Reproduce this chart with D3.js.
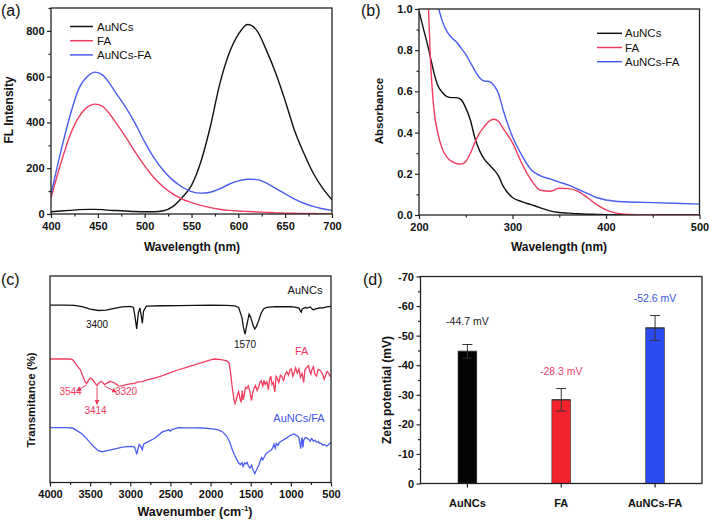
<!DOCTYPE html>
<html><head><meta charset="utf-8">
<script src="https://cdn.jsdelivr.net/npm/d3@7"></script>
<style>
body{margin:0;background:#fff;}
svg{display:block;font-family:"Liberation Sans",Arial,Helvetica,sans-serif;}
</style></head><body>
<svg id="c" width="709" height="525"></svg>
<script>
// ---------- DATA ----------
// (a) fluorescence
const flWave = [400,410,420,430,440,447,455,460,470,480,490,500,510,520,530,540,550,560,570,580,590,600,610,620,630,640,650,660,670,680,690,700];
const flAuNCs = [10,13,16,19,20,20,19,17,15,13,11,10,10,14,32,72,125,228,380,565,700,785,828,800,715,615,495,365,265,178,113,62];
const flFA = [70,215,340,425,470,480,470,450,395,335,270,210,158,118,88,65,50,38,28,21,16,13,11,9,7,5,4,3,2,2,1,1];
const flAuNCsFA = [85,265,425,550,605,620,608,585,525,465,395,315,245,190,148,118,98,91,95,110,130,145,152,150,135,112,88,65,47,33,23,16];
const flXTicks = [400,450,500,550,600,650,700];
const flYTicks = [0,200,400,600,800];

// (b) absorbance
const uvWave = [200,205,210,212,214,216,220,225,230,235,240,245,250,255,260,265,270,275,280,285,290,300,310,320,330,340,350,360,370,380,390,400,410,420,450,500];
const uvAuNCs = [0.99,0.90,0.81,0.77,0.73,0.69,0.63,0.595,0.575,0.57,0.57,0.56,0.52,0.46,0.37,0.31,0.27,0.245,0.22,0.19,0.14,0.085,0.065,0.05,0.035,0.02,0.012,0.009,0.006,0.004,0.003,0.002,0.001,0.001,0,0];
const uvFA = [null,null,1.02,0.78,0.62,0.51,0.40,0.32,0.28,0.26,0.25,0.247,0.26,0.30,0.355,0.40,0.43,0.455,0.465,0.455,0.42,0.35,0.25,0.17,0.12,0.115,0.13,0.128,0.115,0.085,0.05,0.025,0.01,0.004,0.001,0];
const uvAuNCsFA = [null,null,null,null,null,null,1.02,0.94,0.89,0.86,0.84,0.81,0.78,0.74,0.70,0.665,0.65,0.648,0.63,0.59,0.51,0.38,0.29,0.22,0.19,0.175,0.16,0.145,0.125,0.105,0.085,0.073,0.067,0.064,0.06,0.053];
const uvXTicks = [200,300,400,500];
const uvYTicks = [0,0.2,0.4,0.6,0.8,1.0];

// (c) FTIR (wavenumber, transmittance in offset units)
const irAuNCs = [[4000,85.9],[3800,85.9],[3700,85.8],[3600,85.2],[3500,84.0],[3400,83.3],[3300,83.5],[3200,84.3],[3100,85.0],[3000,85.3],[2960,84.8],[2940,80],[2920,74.4],[2900,82],[2880,84.5],[2860,80],[2850,77.1],[2835,83],[2800,85.4],[2600,85.6],[2400,85.7],[2200,85.8],[2000,85.9],[1800,85.8],[1700,85.5],[1650,84.8],[1610,80],[1590,75],[1570,71.9],[1550,76],[1520,81.5],[1500,80],[1470,76],[1450,74.4],[1430,75.5],[1400,78.5],[1370,82],[1340,84],[1300,84.8],[1200,85.2],[1100,85.1],[1000,85.2],[950,84.9],[900,84.5],[880,83.0],[870,82.5],[860,84.0],[820,84.8],[800,84.5],[760,85],[740,84.2],[720,83.6],[700,84.0],[650,84.5],[600,84.6],[550,85],[500,85.3]];
const irFA = [[4000,59.8],[3750,59.8],[3720,59.5],[3700,58.5],[3660,56.5],[3620,54.5],[3590,51.5],[3560,48.6],[3544,48.0],[3520,49.5],[3500,50.6],[3480,50.2],[3450,48.8],[3414,46.8],[3390,48.3],[3360,48.9],[3340,48.3],[3320,47.4],[3290,48.1],[3250,49.0],[3200,48.3],[3150,46.9],[3100,46.8],[3050,47.4],[3000,47.8],[2950,48.0],[2900,48.7],[2850,48.9],[2800,49.6],[2700,50.5],[2600,51.8],[2500,53.2],[2400,54.6],[2300,55.8],[2200,57.0],[2100,58.2],[2000,59.4],[1950,59.8],[1900,59.6],[1850,59.4],[1800,58.9],[1770,58.0],[1750,53.0],[1730,46],[1710,40.5],[1695,38.3],[1680,40.0],[1665,42.5],[1650,44],[1635,40.8],[1620,38.8],[1605,44.5],[1595,40],[1580,42.5],[1565,46],[1550,45.5],[1530,46.8],[1510,44.0],[1490,39.7],[1475,43.5],[1460,45.5],[1440,47],[1420,44.5],[1400,46.5],[1385,48.5],[1370,49.2],[1350,46.7],[1335,49.5],[1320,47.5],[1300,48.8],[1280,45.0],[1265,49.8],[1250,51.5],[1235,47.5],[1220,48.5],[1200,43.9],[1185,51.4],[1170,50.5],[1150,48.4],[1130,52.0],[1110,51.2],[1090,49.5],[1070,52.5],[1050,53.6],[1030,52.0],[1010,54.5],[995,55.0],[975,51.5],[960,53.0],[940,55.5],[920,53.0],[900,55.0],[880,51.0],[860,52.8],[840,48.4],[825,54.5],[800,55.8],[780,56.5],[765,54.0],[750,52.5],[735,55.0],[720,56.0],[700,52.5],[680,51.5],[660,54.8],[640,54.5],[620,53.5],[600,52.0],[585,50.0],[570,51.5],[550,53.8],[530,53.0],[510,51.5],[500,51.8]];
const irMix = [[4000,26.6],[3800,26.6],[3720,26.4],[3680,25.5],[3640,24.5],[3600,23.5],[3550,21.5],[3500,19.3],[3450,17.2],[3400,15.4],[3350,14.9],[3300,15.3],[3200,16.2],[3100,17.1],[3000,17.5],[2950,17.3],[2935,16.0],[2920,13.6],[2905,16.0],[2890,18.4],[2870,17.5],[2850,15.9],[2835,18.6],[2800,19.3],[2700,21.3],[2600,24.5],[2520,25.5],[2500,24.9],[2480,25.6],[2400,26.6],[2300,26.5],[2200,26.5],[2100,26.4],[2000,26.1],[1900,25.5],[1850,24.5],[1800,22.5],[1760,19.5],[1730,16],[1700,13.2],[1670,10.8],[1650,9.5],[1630,8.6],[1610,9.6],[1595,7.8],[1575,9.5],[1560,9.0],[1545,9.8],[1530,8.2],[1510,7.0],[1490,8.3],[1470,5.9],[1450,4.3],[1435,5.5],[1420,6.8],[1400,8.3],[1380,10.5],[1365,12.0],[1350,11.0],[1330,12.5],[1310,14.0],[1290,14.5],[1270,15.0],[1250,15.5],[1230,16.5],[1210,18.5],[1195,16.6],[1180,18.9],[1160,18.0],[1140,19.5],[1120,20.0],[1100,20.4],[1080,21.0],[1050,21.6],[1020,22.5],[1000,22.9],[980,23.3],[960,23.5],[940,23.0],[920,22.6],[900,21.6],[885,18.5],[878,16.4],[870,19.5],[860,21.8],[850,17.0],[840,20.5],[820,21.8],[800,21.5],[780,21.0],[760,20.0],[740,21.3],[720,20.0],[700,20.5],[680,19.5],[660,19.8],[640,19.0],[620,18.9],[600,18.1],[580,18.4],[560,17.7],[540,18.0],[520,18.9],[500,19.2]];
const irXTicks = [4000,3500,3000,2500,2000,1500,1000,500];
const irPeaks = [{wn:3544,label:"3544"},{wn:3414,label:"3414"},{wn:3320,label:"3320"}];

// (d) zeta potential
const zetaCats = ["AuNCs","FA","AuNCs-FA"];
const zetaVals = [44.7,28.3,52.6];
const zetaErr = [2.3,3.8,4.2];
const zetaLabels = ["-44.7 mV","-28.3 mV","-52.6 mV"];
const zetaYTicks = [0,10,20,30,40,50,60,70];

// ---------- STYLE ----------
const C_BLACK = "#111", C_RED = "#f23c5f", C_BLUE = "#4b5cf0";
const BAR_COLORS = ["#050505","#f5222e","#2d4bf5"];
const LABEL_COLORS = ["#222","#f0406b","#3a56e0"];
const AX = "#222";
const TICK_FS = 11;

const svg = d3.select("#c");

function styleAxis(g, fs, bold) {
  g.select(".domain").remove();
  g.selectAll(".tick line").attr("stroke", AX).attr("stroke-width", 1.2);
  g.selectAll(".tick text").attr("font-size", fs).attr("font-weight", bold ? "bold" : "normal")
    .attr("fill", "#111").attr("font-family", '"Liberation Sans",Arial,sans-serif');
}
function frame(box) {
  svg.append("rect").attr("x", box.l).attr("y", box.t).attr("width", box.r - box.l)
    .attr("height", box.b - box.t).attr("fill", "none").attr("stroke", AX).attr("stroke-width", 1.3);
}
function xAxis(x, box, major, minor, fmt) {
  if (minor) {
    const gm = svg.append("g").attr("transform", `translate(0,${box.b})`)
      .call(d3.axisBottom(x).tickValues(minor).tickSize(2.5).tickFormat(""));
    styleAxis(gm, TICK_FS, true);
  }
  const g = svg.append("g").attr("transform", `translate(0,${box.b})`)
    .call(d3.axisBottom(x).tickValues(major).tickSize(4).tickPadding(4).tickFormat(fmt));
  styleAxis(g, TICK_FS, true);
  return g;
}
function yAxis(y, box, major, minor, fmt) {
  if (minor) {
    const gm = svg.append("g").attr("transform", `translate(${box.l},0)`)
      .call(d3.axisLeft(y).tickValues(minor).tickSize(2.5).tickFormat(""));
    styleAxis(gm, TICK_FS, true);
  }
  const g = svg.append("g").attr("transform", `translate(${box.l},0)`)
    .call(d3.axisLeft(y).tickValues(major).tickSize(4).tickPadding(2.5).tickFormat(fmt));
  styleAxis(g, TICK_FS, true);
  return g;
}
function text(x, y, s, o={}) {
  return svg.append("text").attr("x", x).attr("y", y).text(s)
    .attr("font-size", o.fs || 11).attr("font-weight", o.bold ? "bold" : "normal")
    .attr("text-anchor", o.anchor || "start").attr("fill", o.fill || "#111")
    .attr("transform", o.rot ? `rotate(-90,${x},${y})` : null);
}
function clip(id, box) {
  svg.append("clipPath").attr("id", id).append("rect")
    .attr("x", box.l).attr("y", box.t).attr("width", box.r - box.l).attr("height", box.b - box.t);
}

// ---------- PANEL A ----------
{
  const box = {l:51, r:332, t:8, b:214};
  const x = d3.scaleLinear().domain([400,700]).range([box.l, box.r]);
  const y = d3.scaleLinear().domain([0,900]).range([box.b, box.t]);
  clip("clipA", box);
  const line = arr => d3.line().x((d,i)=>x(flWave[i])).y(d=>y(d)).curve(d3.curveMonotoneX)(arr);
  const g = svg.append("g").attr("clip-path","url(#clipA)");
  [[flAuNCs,C_BLACK],[flFA,C_RED],[flAuNCsFA,C_BLUE]].forEach(([arr,c]) =>
    g.append("path").attr("d", line(arr)).attr("fill","none").attr("stroke",c).attr("stroke-width",1.4));
  frame(box);
  xAxis(x, box, flXTicks, [425,475,525,575,625,675], d3.format("d"));
  yAxis(y, box, flYTicks, [100,300,500,700,900], d3.format("d"));
  const leg = [["AuNCs",C_BLACK],["FA",C_RED],["AuNCs-FA",C_BLUE]];
  leg.forEach(([s,c],i) => {
    const yy = 26.5 + i*14.2;
    svg.append("line").attr("x1",70).attr("x2",93).attr("y1",yy).attr("y2",yy).attr("stroke",c).attr("stroke-width",1.5);
    text(97, yy+4, s, {fs:11.5});
  });
  text(192, 250.5, "Wavelength (nm)", {fs:12, bold:true, anchor:"middle"});
  text(13, 110, "FL Intensity", {fs:12, bold:true, anchor:"middle", rot:true});
  text(1, 16, "(a)", {fs:16});
}

// ---------- PANEL B ----------
{
  const box = {l:419, r:699.5, t:9, b:215};
  const x = d3.scaleLinear().domain([200,500]).range([box.l, box.r]);
  const y = d3.scaleLinear().domain([0,1]).range([box.b, box.t]);
  clip("clipB", box);
  const line = arr => d3.line().defined(d=>d!=null).x((d,i)=>x(uvWave[i])).y(d=>y(d)).curve(d3.curveMonotoneX)(arr);
  const g = svg.append("g").attr("clip-path","url(#clipB)");
  [[uvAuNCs,C_BLACK],[uvFA,C_RED],[uvAuNCsFA,C_BLUE]].forEach(([arr,c]) =>
    g.append("path").attr("d", line(arr)).attr("fill","none").attr("stroke",c).attr("stroke-width",1.4));
  frame(box);
  xAxis(x, box, uvXTicks, [250,350,450], d3.format("d"));
  yAxis(y, box, uvYTicks, [0.1,0.3,0.5,0.7,0.9], d3.format(".1f"));
  const leg = [["AuNCs",C_BLACK],["FA",C_RED],["AuNCs-FA",C_BLUE]];
  leg.forEach(([s,c],i) => {
    const yy = 33.3 + i*14.2;
    svg.append("line").attr("x1",597).attr("x2",622).attr("y1",yy).attr("y2",yy).attr("stroke",c).attr("stroke-width",1.5);
    text(625, yy+4, s, {fs:11.5});
  });
  text(559, 250.5, "Wavelength (nm)", {fs:12, bold:true, anchor:"middle"});
  text(383, 111, "Absorbance", {fs:11.5, bold:true, anchor:"middle", rot:true});
  text(361, 16, "(b)", {fs:16});
}

// ---------- PANEL C ----------
{
  const box = {l:50, r:331, t:276, b:482.5};
  const x = d3.scaleLinear().domain([4000,500]).range([box.l, box.r]);
  const y = d3.scaleLinear().domain([0,100]).range([box.b, box.t]);
  const line = d3.line().x(d=>x(d[0])).y(d=>y(d[1]));
  [[irAuNCs,C_BLACK],[irFA,C_RED],[irMix,C_BLUE]].forEach(([arr,c]) =>
    svg.append("path").attr("d", line(arr)).attr("fill","none").attr("stroke",c).attr("stroke-width",1.3));
  frame(box);
  xAxis(x, box, irXTicks, [3750,3250,2750,2250,1750,1250,750], d3.format("d"));
  text(305, 294.3, "AuNCs", {fs:11, anchor:"middle"});
  text(301.7, 355, "FA", {fs:11, anchor:"middle", fill:C_RED});
  text(299, 422.3, "AuNCs/FA", {fs:11, anchor:"middle", fill:"#3e55e5"});
  text(97, 327.7, "3400", {fs:10, anchor:"middle"});
  text(245, 348, "1570", {fs:10, anchor:"middle"});
  const defs = svg.append("defs");
  defs.append("marker").attr("id","ah").attr("viewBox","0 0 10 10").attr("refX",9).attr("refY",5)
    .attr("markerWidth",5).attr("markerHeight",5).attr("orient","auto")
    .append("path").attr("d","M0,0L10,5L0,10z").attr("fill",C_RED);
  const lab = {3544:{dx:-10,dy:6,tx:70.5,ty:395}, 3414:{dx:0,dy:17,tx:95.5,ty:414.3}, 3320:{dx:12,dy:6,tx:126,ty:395}};
  irPeaks.forEach(p => {
    const pt = irFA.find(d=>d[0]===p.wn);
    const px = x(p.wn), py = y(pt[1]) + 1.5;
    const L = lab[p.wn];
    svg.append("line").attr("x1",px).attr("y1",py).attr("x2",px+L.dx).attr("y2",py+L.dy)
      .attr("stroke",C_RED).attr("stroke-width",1).attr("marker-end","url(#ah)");
    text(L.tx, L.ty, p.label, {fs:10, anchor:"middle", fill:C_RED});
  });
  const t = svg.append("text").attr("x",195).attr("y",516).attr("text-anchor","middle")
    .attr("font-size",12.5).attr("font-weight","bold").attr("fill","#111");
  t.append("tspan").text("Wavenumber (cm");
  t.append("tspan").text("-1").attr("font-size",8).attr("dy",-5);
  t.append("tspan").text(")").attr("dy",5);
  text(35, 400, "Transmitance (%)", {fs:11.5, bold:true, anchor:"middle", rot:true});
  text(1, 285, "(c)", {fs:16});
}

// ---------- PANEL D ----------
{
  const box = {l:420.5, r:702, t:276.5, b:483.5};
  const x = d3.scaleBand().domain(zetaCats).range([box.l, box.r]).paddingInner(0.8).paddingOuter(0.4);
  const y = d3.scaleLinear().domain([0,70]).range([box.b, box.t]);
  zetaCats.forEach((c,i) => {
    svg.append("rect").attr("x", x(c)).attr("y", y(zetaVals[i])).attr("width", x.bandwidth())
      .attr("height", y(0) - y(zetaVals[i])).attr("fill", BAR_COLORS[i]).attr("stroke","#333").attr("stroke-width",0.6);
    const cx = x(c) + x.bandwidth()/2;
    const top = y(zetaVals[i] + zetaErr[i]), bot = y(zetaVals[i] - zetaErr[i]);
    svg.append("line").attr("x1",cx).attr("x2",cx).attr("y1",top).attr("y2",bot).attr("stroke","#333").attr("stroke-width",1);
    [top,bot].forEach(yy => svg.append("line").attr("x1",cx-5).attr("x2",cx+5).attr("y1",yy).attr("y2",yy).attr("stroke","#333").attr("stroke-width",1));
    svg.append("line").attr("x1",x(c)).attr("x2",x(c)+x.bandwidth()).attr("y1",y(zetaVals[i])).attr("y2",y(zetaVals[i])).attr("stroke","#333").attr("stroke-width",1.2);
  });
  const lblY = [325, 375, 301.7];
  zetaCats.forEach((c,i) => text(x(c)+x.bandwidth()/2, lblY[i], zetaLabels[i], {fs:10.5, anchor:"middle", fill:LABEL_COLORS[i]}));
  frame(box);
  const gx = svg.append("g").attr("transform",`translate(0,${box.b})`)
    .call(d3.axisBottom(x).tickSize(4).tickPadding(11.5));
  styleAxis(gx, 11, true);
  yAxis(y, box, zetaYTicks, [5,15,25,35,45,55,65], d => d===0 ? "0" : "-" + d);
  text(391, 390, "Zeta potential (mV)", {fs:12, bold:true, anchor:"middle", rot:true});
  text(363, 285, "(d)", {fs:16});
}
</script>
</body></html>
